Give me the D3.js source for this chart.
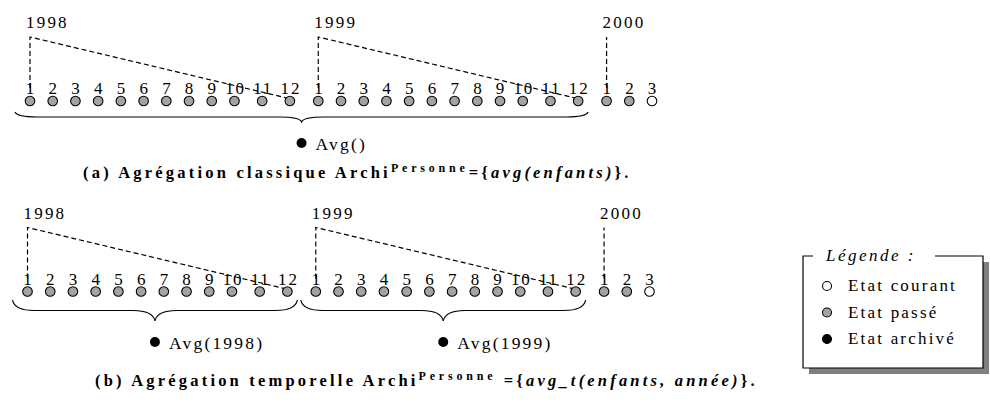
<!DOCTYPE html>
<html>
<head>
<meta charset="utf-8">
<script src="https://cdn.jsdelivr.net/npm/d3@7"></script>
<style>
  body { margin: 0; background: #fff; }
  text { font-family: "Liberation Serif", "Times New Roman", serif; fill: #000; }
</style>
</head>
<body>
<div id="chart"></div>
<script>
var width = 990;
var height = 407;

// data
var years = ["1998", "1999", "2000"];
var months = [
  ["1", "2", "3", "4", "5", "6", "7", "8", "9", "10", "11", "12"],
  ["1", "2", "3", "4", "5", "6", "7", "8", "9", "10", "11", "12"],
  ["1", "2", "3"]
];
var states = [
  ["passé", "passé", "passé", "passé", "passé", "passé", "passé", "passé", "passé", "passé", "passé", "passé"],
  ["passé", "passé", "passé", "passé", "passé", "passé", "passé", "passé", "passé", "passé", "passé", "passé"],
  ["passé", "passé", "courant"]
];
var aggLabelsA = ["Avg()"];
var aggYearsA = [["1998", "1999"]];
var aggLabelsB = ["Avg(1998)", "Avg(1999)"];
var aggYearsB = [["1998"], ["1999"]];
var legendTitle = "Légende :";
var legendLabels = ["Etat courant", "Etat passé", "Etat archivé"];
var legendStates = ["courant", "passé", "archivé"];
var titleA = ["(a) Agrégation classique Archi", "Personne", "={", "avg(enfants)", "}."];
var titleB = ["(b) Agrégation temporelle Archi", "Personne", " ={", "avg_t(enfants, année)", "}."];

var svg = d3.select("#chart")
  .append("svg")
  .attr("width", width)
  .attr("height", height);

// one point per month, spaced a bit wider around two-digit labels and year changes
var points = [];
var u = 0;
years.forEach(function(y, yi) {
  months[yi].forEach(function(m, mi) {
    if (points.length) {
      var prev = points[points.length - 1];
      u += 1;
      if (prev.month.length > 1 && m.length > 1) u += 0.22;
      if (prev.year !== y) u += 0.25;
    }
    points.push({ year: y, month: m, state: states[yi][mi], u: u });
  });
});

var xScale = d3.scaleLinear()
  .domain([0, d3.max(points, function(p) { return p.u; })])
  .range([30, 652]);

var color = d3.scaleOrdinal()
  .domain(["courant", "passé", "archivé"])
  .range(["#ffffff", "#a3a3a3", "#000000"]);

function bracePath(x0, x1, y0, h) {
  var p = d3.path();
  var ym = y0 + h / 2, xm = (x0 + x1) / 2, r = 22;
  p.moveTo(x0, y0);
  p.quadraticCurveTo(x0 + 2, ym, x0 + r, ym);
  p.lineTo(xm - r, ym);
  p.quadraticCurveTo(xm - 2, ym, xm, y0 + h);
  p.quadraticCurveTo(xm + 2, ym, xm + r, ym);
  p.lineTo(x1 - r, ym);
  p.quadraticCurveTo(x1 - 2, ym, x1, y0);
  return p.toString();
}

function drawPanel(g, aggLabels, aggYears, braceTop, braceDepth) {
  // dashed year markers
  years.forEach(function(y) {
    var pts = points.filter(function(p) { return p.year === y; });
    var xa = xScale(pts[0].u);
    var path = "M" + xa + ",88L" + xa + ",37";
    if (pts.length === 12) {
      path += "L" + (xScale(pts[11].u) - 3) + ",98";
    }
    g.append("path")
      .attr("d", path)
      .attr("fill", "none")
      .attr("stroke", "#000")
      .attr("stroke-width", 1.2)
      .attr("stroke-dasharray", "5,3");

    g.append("text")
      .attr("x", xa - 4)
      .attr("y", 28)
      .style("font-size", "17px")
      .style("letter-spacing", "2.2px")
      .text(y);
  });

  g.selectAll(".mlabel")
    .data(points)
    .enter()
    .append("text")
    .attr("class", "mlabel")
    .attr("x", function(p) { return xScale(p.u) + 1; })
    .attr("y", 94)
    .attr("text-anchor", "middle")
    .style("font-size", "17px")
    .style("letter-spacing", "1.8px")
    .text(function(p) { return p.month; });

  g.selectAll(".dot")
    .data(points)
    .enter()
    .append("circle")
    .attr("class", "dot")
    .attr("cx", function(p) { return xScale(p.u); })
    .attr("cy", 101)
    .attr("r", 4.8)
    .attr("fill", function(p) { return color(p.state); })
    .attr("stroke", "#000")
    .attr("stroke-width", 1.1);

  aggLabels.forEach(function(label, i) {
    var pts = points.filter(function(p) { return aggYears[i].indexOf(p.year) >= 0; });
    var x0 = xScale(pts[0].u) - 15;
    var x1 = xScale(pts[pts.length - 1].u) + 10;
    var xm = (x0 + x1) / 2;
    g.append("path")
      .attr("d", bracePath(x0, x1, braceTop, braceDepth))
      .attr("fill", "none")
      .attr("stroke", "#000")
      .attr("stroke-width", 1.2);

    var dy = braceTop + braceDepth + 21;
    g.append("circle")
      .attr("cx", xm)
      .attr("cy", dy)
      .attr("r", 5)
      .attr("fill", color("archivé"));
    g.append("text")
      .attr("x", xm + 14)
      .attr("y", dy + 7)
      .style("font-size", "17.5px")
      .style("letter-spacing", "2.2px")
      .text(label);
  });
}

var topPanel = svg.append("g");
drawPanel(topPanel, aggLabelsA, aggYearsA, 112, 10);

var bottomPanel = svg.append("g")
  .attr("transform", "translate(-2.5, 190.5)");
drawPanel(bottomPanel, aggLabelsB, aggYearsB, 109.5, 21);

// titles
var partStyles = ["main", "sup", "main", "ital", "main"];
function drawTitle(parts, x, y) {
  var t = svg.append("text")
    .attr("x", x)
    .attr("y", y)
    .style("font-weight", "bold")
    .style("font-size", "16.5px")
    .style("letter-spacing", "3.2px");
  var shift = 0;
  parts.forEach(function(s, i) {
    var sp = t.append("tspan").text(s);
    var kind = partStyles[i];
    if (kind === "sup") {
      sp.attr("dy", -6).style("font-size", "12px").style("letter-spacing", "3.8px");
      shift = 6;
    } else {
      if (shift) { sp.attr("dy", shift); shift = 0; }
      if (kind === "ital") sp.style("font-style", "italic");
    }
  });
}
drawTitle(titleA, 83, 178);
drawTitle(titleB, 95, 386);

// legend
var legend = svg.append("g");
var lx0 = 803, lx1 = 983, ly0 = 256, ly1 = 368;
legend.append("rect")
  .attr("x", lx0 + 6).attr("y", ly1)
  .attr("width", lx1 - lx0).attr("height", 6)
  .attr("fill", "#808080");
legend.append("rect")
  .attr("x", lx1).attr("y", ly0 + 6)
  .attr("width", 6).attr("height", ly1 - ly0)
  .attr("fill", "#808080");
legend.append("path")
  .attr("d", "M813," + ly0 + "L" + lx0 + "," + ly0 + "L" + lx0 + "," + ly1 +
    "L" + lx1 + "," + ly1 + "L" + lx1 + "," + ly0 + "L935," + ly0)
  .attr("fill", "none")
  .attr("stroke", "#000")
  .attr("stroke-width", 1.2);
legend.append("text")
  .attr("x", 826)
  .attr("y", 261)
  .style("font-style", "italic")
  .style("font-size", "17px")
  .style("letter-spacing", "2.5px")
  .text(legendTitle);

var legendY = d3.scalePoint()
  .domain(legendLabels)
  .range([286, 339]);

legend.selectAll(".litem")
  .data(legendLabels)
  .enter()
  .append("circle")
  .attr("class", "litem")
  .attr("cx", 827)
  .attr("cy", function(d) { return legendY(d); })
  .attr("r", 4.5)
  .attr("fill", function(d, i) { return color(legendStates[i]); })
  .attr("stroke", "#000")
  .attr("stroke-width", 1.1);

legend.selectAll(".ltext")
  .data(legendLabels)
  .enter()
  .append("text")
  .attr("class", "ltext")
  .attr("x", 848)
  .attr("y", function(d) { return legendY(d) + 5; })
  .style("font-size", "17px")
  .style("letter-spacing", "2.2px")
  .text(function(d) { return d; });
</script>
</body>
</html>
